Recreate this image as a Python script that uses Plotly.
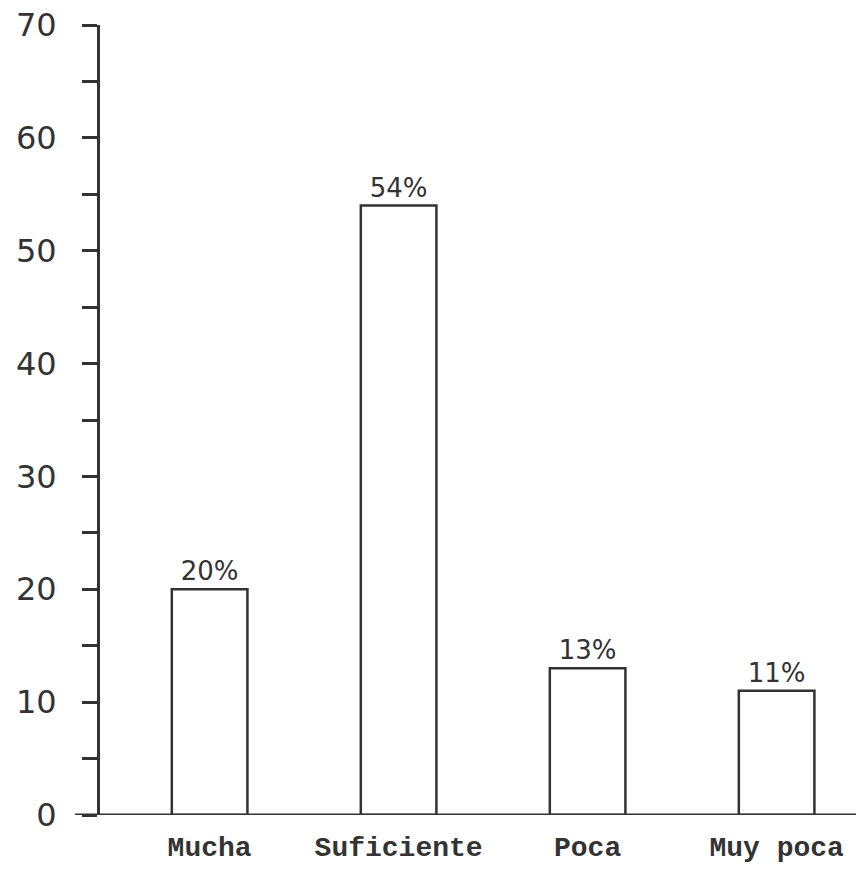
import plotly.graph_objects as go

categorias = ['Mucha', 'Suficiente', 'Poca', 'Muy poca']
porcentajes = [20, 54, 13, 11]
y_ticks = [0, 10, 20, 30, 40, 50, 60, 70]

tinta = '#333333'

fig = go.Figure()

fig.add_trace(go.Bar(
    x=categorias, y=porcentajes,
    width=0.4,
    marker=dict(color='white', line=dict(color=tinta, width=2.5)),
    texttemplate='%{y}%', textposition='outside',
    textfont=dict(family='DejaVu Sans', size=26, color=tinta),
    cliponaxis=False, showlegend=False,
))

# eje x dibujado un poco mas a la izquierda, como en el original
fig.add_shape(type='line', xref='paper', yref='y', x0=-0.033, x1=1, y0=0, y1=0,
              line=dict(color=tinta, width=3))

fig.update_layout(
    width=856, height=870,
    margin=dict(l=100, r=0, t=25, b=55),
    paper_bgcolor='white', plot_bgcolor='white',
    bargap=0.6,
)
fig.update_xaxes(
    range=[-0.58, 3.42], showgrid=False, showline=False, ticks='',
    tickfont=dict(family='Liberation Mono', size=28, color=tinta, weight='bold'),
    ticklabelstandoff=12, automargin=False,
)
fig.update_yaxes(
    range=[0, 70], tickvals=y_ticks, showgrid=False, zeroline=False,
    showline=True, linecolor=tinta, linewidth=3,
    ticks='outside', ticklen=15, tickwidth=3, tickcolor=tinta,
    minor=dict(dtick=5, ticks='outside', ticklen=15, tickwidth=3, tickcolor=tinta),
    tickfont=dict(family='DejaVu Sans', size=32, color=tinta),
    ticklabelstandoff=19, automargin=False,
)

# sin margen del body para que la figura ocupe la ventana exacta
fig.write_html("out.html", config={'displayModeBar': False},
               post_script="document.body.style.margin='0';")
